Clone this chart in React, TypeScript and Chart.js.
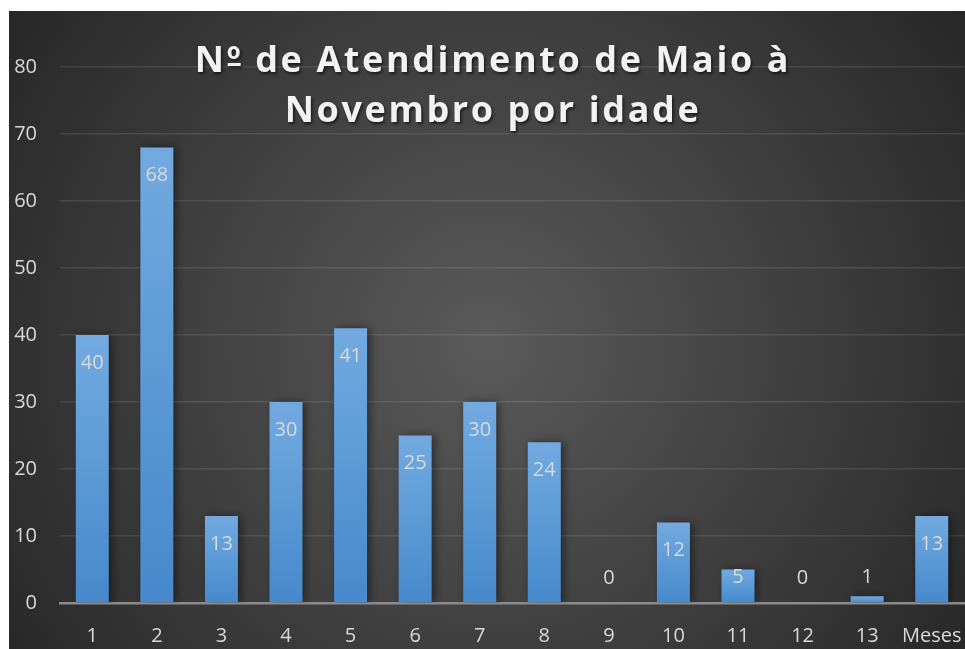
import React, { useEffect, useRef } from "react";
import { Chart, registerables } from "chart.js";

Chart.register(...registerables);

const categories = ["1", "2", "3", "4", "5", "6", "7", "8", "9", "10", "11", "12", "13", "Meses"];
const values = [40, 68, 13, 30, 41, 25, 30, 24, 0, 12, 5, 0, 1, 13];
const titleLines = ["Nº de Atendimento de Maio à", "Novembro por idade"];
const yMin = 0;
const yMax = 80;
const yStep = 10;

const FONT = "'Open Sans', 'Noto Sans', sans-serif";

const backgroundPlugin = {
  id: "bgGradient",
  beforeDraw(chart: any) {
    const { ctx, width, height } = chart;
    ctx.save();
    const g = ctx.createRadialGradient(width * 0.5, height * 0.52, 0, width * 0.5, height * 0.52, Math.max(width, height) * 0.62);
    g.addColorStop(0, "#5a5a5a");
    g.addColorStop(1, "#262626");
    ctx.fillStyle = g;
    ctx.fillRect(0, 0, width, height);
    ctx.restore();
  },
};

const shadowPlugin = {
  id: "barShadow",
  beforeDatasetDraw(chart: any) {
    const ctx = chart.ctx;
    ctx.save();
    ctx.shadowColor = "rgba(0,0,0,0.45)";
    ctx.shadowBlur = 8;
    ctx.shadowOffsetX = 3;
    ctx.shadowOffsetY = 0;
  },
  afterDatasetDraw(chart: any) {
    chart.ctx.restore();
  },
};

const labelPlugin = {
  id: "barLabels",
  afterDatasetsDraw(chart: any) {
    const ctx = chart.ctx;
    const meta = chart.getDatasetMeta(0);
    ctx.save();
    ctx.font = `20px ${FONT}`;
    ctx.fillStyle = "#d9d9d9";
    ctx.textAlign = "center";
    ctx.textBaseline = "middle";
    meta.data.forEach((el: any, i: number) => {
      const y = Math.min(el.y + 28, el.base - 25);
      ctx.fillText(String(values[i]), el.x, y);
    });
    ctx.restore();
  },
};

const titlePlugin = {
  id: "spacedTitle",
  afterDraw(chart: any) {
    const ctx = chart.ctx;
    ctx.save();
    ctx.font = `bold 36px ${FONT}`;
    (ctx as any).letterSpacing = "2.6px";
    ctx.textAlign = "left";
    ctx.textBaseline = "alphabetic";
    ctx.fillStyle = "#f2f2f2";
    ctx.strokeStyle = "#f2f2f2";
    ctx.shadowColor = "rgba(0,0,0,0.6)";
    ctx.shadowBlur = 3;
    ctx.shadowOffsetX = 1.5;
    ctx.shadowOffsetY = 2;
    const cx = 484;
    const w0 = ctx.measureText(titleLines[0]).width;
    const x0 = cx - w0 / 2;
    ctx.fillText(titleLines[0], x0, 61);
    // underline beneath the ordinal indicator
    const wN = ctx.measureText("N").width;
    const wO = ctx.measureText("º").width - 2.6;
    ctx.fillRect(x0 + wN + 1, 52, wO - 1, 3);
    const w1 = ctx.measureText(titleLines[1]).width;
    ctx.fillText(titleLines[1], cx - w1 / 2, 111);
    ctx.restore();
  },
};

export default function App() {
  const canvasRef = useRef<HTMLCanvasElement | null>(null);

  useEffect(() => {
    if (!canvasRef.current) return;
    const chart = new Chart(canvasRef.current, {
      type: "bar",
      data: {
        labels: categories,
        datasets: [
          {
            data: values,
            backgroundColor: (c: any) => {
              const ch = c.chart;
              if (!ch.chartArea || !ch.scales.y) return "#5b9bd5";
              const top = ch.scales.y.getPixelForValue(c.raw);
              const base = ch.scales.y.getPixelForValue(0);
              if (base - top < 1) return "#5b9bd5";
              const g = ch.ctx.createLinearGradient(0, top, 0, base);
              g.addColorStop(0, "#72aae0");
              g.addColorStop(1, "#4689cc");
              return g;
            },
            borderWidth: 0,
            barPercentage: 0.511,
            categoryPercentage: 1,
          },
        ],
      },
      options: {
        animation: false,
        responsive: true,
        maintainAspectRatio: false,
        layout: { padding: { top: 56, right: 1, left: 0, bottom: 0 } },
        plugins: {
          legend: { display: false },
          title: { display: false },
          tooltip: { enabled: false },
        },
        scales: {
          x: {
            afterFit: (s: any) => {
              s.height = 46;
              s.paddingLeft = 0;
              s.paddingRight = 0;
            },
            grid: { display: false },
            border: { display: true, color: "#8c8c8c", width: 2.5 },
            ticks: {
              color: "#d9d9d9",
              font: { family: FONT, size: 20 },
              padding: 13,
              maxRotation: 0,
              autoSkip: false,
            },
          },
          y: {
            min: yMin,
            max: yMax,
            afterFit: (s: any) => {
              s.width = 51;
            },
            grid: {
              color: "rgba(255,255,255,0.1)",
              lineWidth: 1.5,
              drawTicks: false,
            },
            border: { display: false },
            ticks: {
              stepSize: yStep,
              color: "#d9d9d9",
              font: { family: FONT, size: 20 },
              padding: 23,
            },
          },
        },
      },
      plugins: [backgroundPlugin, shadowPlugin, labelPlugin, titlePlugin],
    } as any);
    return () => chart.destroy();
  }, []);

  return (
    <div style={{ position: "absolute", left: 9, top: 11, width: 956, height: 638 }}>
      <canvas ref={canvasRef} />
    </div>
  );
}
